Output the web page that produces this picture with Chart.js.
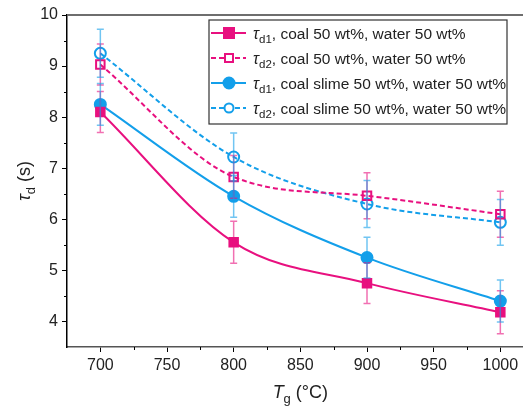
<!DOCTYPE html>
<html>
<head>
<meta charset="utf-8">
<script src="https://cdn.jsdelivr.net/npm/chart.js@4/dist/chart.umd.min.js"></script>
<style>
  html, body { margin: 0; padding: 0; background: #fff; }
  #wrap { width: 523px; height: 409px; position: relative; }
</style>
</head>
<body>
<div id="wrap"><canvas id="chart"></canvas></div>
<script>
const temps = [700, 800, 900, 1000];
const coalTd1 = [8.10, 5.55, 4.75, 4.18];
const coalTd1Err = [0.40, 0.41, 0.40, 0.42];
const coalTd2 = [9.03, 6.83, 6.46, 6.10];
const coalTd2Err = [0.40, 0.42, 0.45, 0.45];
const slimeTd1 = [8.25, 6.45, 5.25, 4.40];
const slimeTd1Err = [0.41, 0.41, 0.40, 0.41];
const slimeTd2 = [9.25, 7.22, 6.30, 5.94];
const slimeTd2Err = [0.47, 0.47, 0.46, 0.45];
const xTicks = [700, 750, 800, 850, 900, 950, 1000];
const yTicks = [4, 5, 6, 7, 8, 9, 10];
const legendSub = ["d1", "d2", "d1", "d2"];
const legendText = [", coal 50 wt%, water 50 wt%", ", coal 50 wt%, water 50 wt%",
  ", coal slime 50 wt%, water 50 wt%", ", coal slime 50 wt%, water 50 wt%"];

const PINK = "#e8107f";
const BLUE = "#139fea";
const FONT = "Liberation Sans, Arial, sans-serif";

function pts(ys) { return temps.map((t, i) => ({ x: t, y: ys[i] })); }

const series = [
  { ys: coalTd1, err: coalTd1Err, color: PINK, style: "rect", filled: true, dash: [] },
  { ys: coalTd2, err: coalTd2Err, color: PINK, style: "rect", filled: false, dash: [5, 3] },
  { ys: slimeTd1, err: slimeTd1Err, color: BLUE, style: "circle", filled: true, dash: [] },
  { ys: slimeTd2, err: slimeTd2Err, color: BLUE, style: "circle", filled: false, dash: [5, 3] },
];

function alpha(hex, a) {
  const n = parseInt(hex.slice(1), 16);
  return `rgba(${n >> 16},${(n >> 8) & 255},${n & 255},${a})`;
}

const datasets = series.map((s) => ({
  data: pts(s.ys),
  borderColor: s.color,
  backgroundColor: s.filled ? s.color : "rgba(255,255,255,0)",
  borderWidth: 2,
  borderDash: s.dash,
  cubicInterpolationMode: "monotone",
  pointStyle: s.style,
  pointRadius: s.style === "rect" ? 6 : 5.5,
  pointBorderWidth: 2,
  pointBorderColor: s.color,
  pointBackgroundColor: s.filled ? s.color : "rgba(255,255,255,0)",
}));

function drawMarker(ctx, s, x, y) {
  ctx.save();
  ctx.setLineDash([]);
  ctx.lineWidth = 2;
  ctx.strokeStyle = s.color;
  ctx.fillStyle = s.filled ? s.color : "#fff";
  if (s.style === "rect") {
    const h = s.filled ? 5 : 4;
    ctx.fillRect(x - h, y - h, 2 * h, 2 * h);
    ctx.strokeRect(x - h, y - h, 2 * h, 2 * h);
  } else {
    ctx.beginPath();
    ctx.arc(x, y, s.filled ? 5.5 : 4.5, 0, Math.PI * 2);
    ctx.fill();
    ctx.stroke();
  }
  ctx.restore();
}

// error bars, minor ticks, frame, axis titles and the legend
const extras = {
  id: "extras",
  afterDatasetsDraw(chart) {
    const { ctx, scales: { x, y }, chartArea: a } = chart;
    ctx.save();
    series.forEach((s) => {
      ctx.strokeStyle = alpha(s.color, 0.6);
      ctx.lineWidth = 1.5;
      temps.forEach((t, i) => {
        const px = x.getPixelForValue(t);
        const top = y.getPixelForValue(s.ys[i] + s.err[i]);
        const bot = y.getPixelForValue(s.ys[i] - s.err[i]);
        ctx.beginPath();
        ctx.moveTo(px, top); ctx.lineTo(px, bot);
        ctx.moveTo(px - 3.5, top); ctx.lineTo(px + 3.5, top);
        ctx.moveTo(px - 3.5, bot); ctx.lineTo(px + 3.5, bot);
        ctx.stroke();
      });
    });

    // minor ticks
    ctx.strokeStyle = "#000";
    ctx.lineWidth = 1;
    ctx.beginPath();
    for (let v = 725; v < 1000; v += 50) {
      const px = Math.round(x.getPixelForValue(v)) + 0.5;
      ctx.moveTo(px, a.bottom); ctx.lineTo(px, a.bottom + 3);
    }
    for (let v = 4.5; v < 10; v += 1) {
      const py = Math.round(y.getPixelForValue(v)) + 0.5;
      ctx.moveTo(a.left, py); ctx.lineTo(a.left - 3, py);
    }
    ctx.stroke();

    // top frame line
    ctx.strokeStyle = "#6e6e6e";
    ctx.lineWidth = 2;
    ctx.beginPath();
    ctx.moveTo(a.left, a.top); ctx.lineTo(chart.width, a.top);
    ctx.stroke();

    // x title
    ctx.fillStyle = "#222";
    ctx.textBaseline = "alphabetic";
    const cx = (x.getPixelForValue(700) + x.getPixelForValue(1000)) / 2;
    const parts = [["T", "italic 18px " + FONT, 0], ["g", "13px " + FONT, 5], [" (°C)", "18px " + FONT, 0]];
    let w = 0;
    parts.forEach((p) => { ctx.font = p[1]; w += ctx.measureText(p[0]).width; });
    let px = cx - w / 2;
    parts.forEach((p) => { ctx.font = p[1]; ctx.fillText(p[0], px, 398 + p[2]); px += ctx.measureText(p[0]).width; });

    // y title
    ctx.save();
    ctx.translate(30, (a.top + a.bottom) / 2);
    ctx.rotate(-Math.PI / 2);
    const yp = [["τ", "italic 18px " + FONT, 0], ["d", "13px " + FONT, 5], [" (s)", "18px " + FONT, 0]];
    w = 0;
    yp.forEach((p) => { ctx.font = p[1]; w += ctx.measureText(p[0]).width; });
    px = -w / 2;
    yp.forEach((p) => { ctx.font = p[1]; ctx.fillText(p[0], px, p[2]); px += ctx.measureText(p[0]).width; });
    ctx.restore();

    // legend
    const L = 209, T = 20, R = 507, B = 124;
    ctx.fillStyle = "#fff";
    ctx.fillRect(L, T, R - L, B - T);
    ctx.strokeStyle = "#333";
    ctx.lineWidth = 1.2;
    ctx.strokeRect(L, T, R - L, B - T);
    series.forEach((s, i) => {
      const ry = 33 + i * 25;
      ctx.strokeStyle = s.color;
      ctx.lineWidth = 2;
      ctx.setLineDash(s.dash);
      ctx.beginPath();
      ctx.moveTo(211, ry); ctx.lineTo(246, ry);
      ctx.stroke();
      ctx.setLineDash([]);
      drawMarker(ctx, s, 229, ry);
      ctx.fillStyle = "#222";
      let tx = 253;
      ctx.font = "italic 16px " + FONT;
      ctx.fillText("τ", tx, ry + 6); tx += ctx.measureText("τ").width;
      ctx.font = "11.5px " + FONT;
      ctx.fillText(legendSub[i], tx, ry + 10); tx += ctx.measureText(legendSub[i]).width;
      ctx.font = "15.5px " + FONT;
      ctx.fillText(legendText[i], tx, ry + 6);
    });
    ctx.restore();
  },
};

new Chart(document.getElementById("chart"), {
  type: "line",
  data: { datasets },
  options: {
    responsive: true,
    maintainAspectRatio: false,
    animation: false,
    layout: { autoPadding: false, padding: { top: 15, right: 0, left: 0, bottom: 0 } },
    plugins: { legend: { display: false }, tooltip: { enabled: false } },
    scales: {
      x: {
        type: "linear",
        min: 675,
        max: 1017,
        afterBuildTicks: (sc) => { sc.ticks = xTicks.map((v) => ({ value: v })); },
        afterFit: (sc) => { sc.height = 62; sc.paddingRight = 0; sc.paddingLeft = 0; },
        grid: { drawOnChartArea: false, tickLength: 5, color: "#000" },
        border: { color: "#555", width: 1.5 },
        ticks: { color: "#222", padding: 4, maxRotation: 0, font: { size: 16, family: FONT },
          callback: (v) => String(v) },
      },
      y: {
        min: 3.5,
        max: 10,
        afterBuildTicks: (sc) => { sc.ticks = yTicks.map((v) => ({ value: v })); },
        afterFit: (sc) => { sc.width = 67; },
        grid: { drawOnChartArea: false, tickLength: 5, color: "#000" },
        border: { color: "#000", width: 1.5 },
        ticks: { color: "#222", padding: 4, font: { size: 16, family: FONT } },
      },
    },
  },
  plugins: [extras],
});
</script>
</body>
</html>
